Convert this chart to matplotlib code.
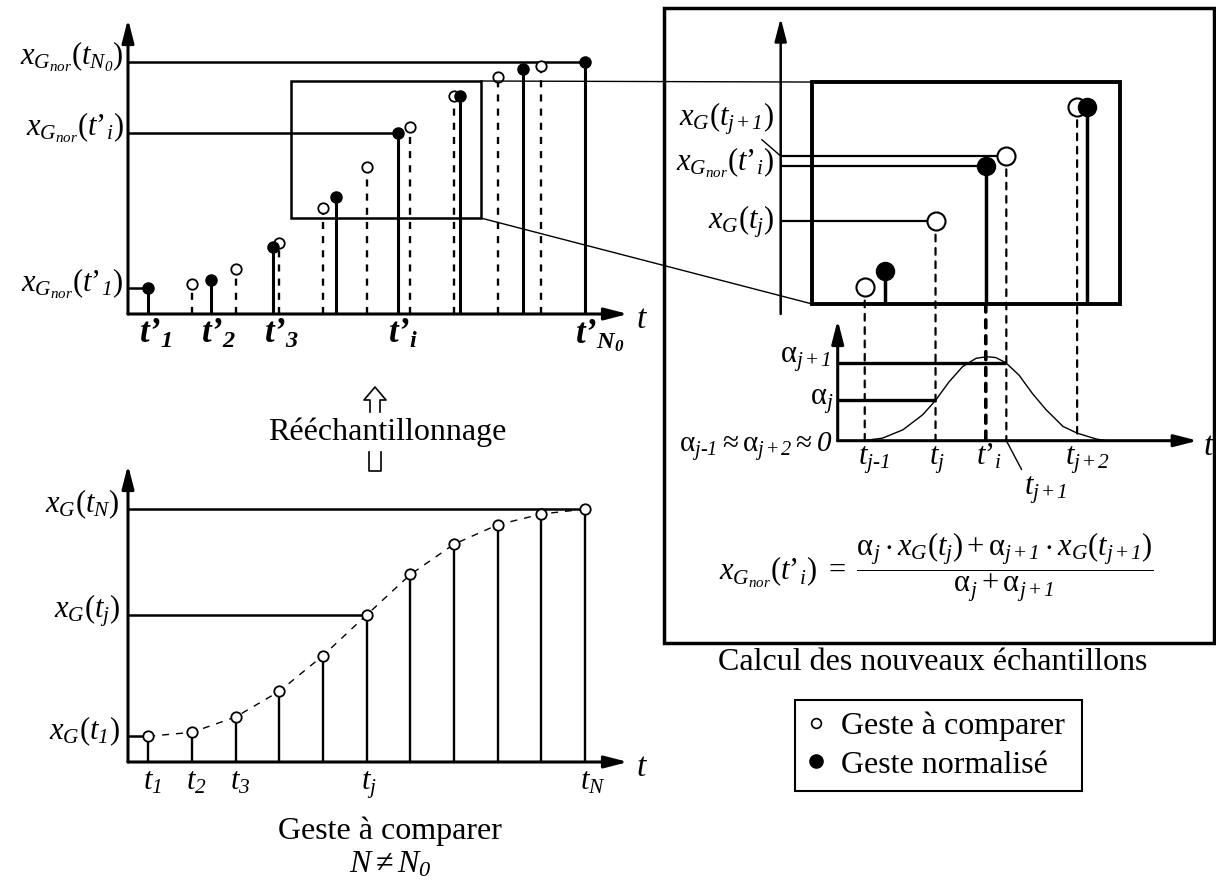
import matplotlib
matplotlib.use("Agg")
import matplotlib.pyplot as plt
from matplotlib.patches import Rectangle, ConnectionPatch
from matplotlib.lines import Line2D
from matplotlib.mathtext import MathTextParser

plt.rcParams["font.family"] = "Liberation Serif"
plt.rcParams["mathtext.fontset"] = "custom"
plt.rcParams["mathtext.rm"] = "Liberation Serif"
plt.rcParams["mathtext.it"] = "Liberation Serif:italic"
plt.rcParams["mathtext.bf"] = "Liberation Serif:bold"
# \mathsf used only for italic digits (the 'it' slot forces digits upright)
plt.rcParams["mathtext.sf"] = "Liberation Serif:italic"
plt.rcParams["mathtext.fallback"] = "stix"
try:
    plt.rcParams["mathtext.bfit"] = "Liberation Serif:italic:bold"
except KeyError:
    pass

# gesture to compare: sample times t_j (index) and values x_G(t_j)
t_orig = [0, 1, 2, 3, 4, 5, 6, 7, 8, 9, 10]
x_orig = [0.77, 0.89, 1.35, 2.12, 3.19, 4.41, 5.62, 6.53, 7.11, 7.43, 7.58]

# normalised gesture: resampled times t'_i and values x_Gnor(t'_i)
t_norm = [0, 1.43, 2.86, 4.29, 5.71, 7.14, 8.57, 10]
x_norm = [0.77, 1.03, 2.00, 3.50, 5.43, 6.53, 7.36, 7.56]

# zoom window (top left rectangle)
zoom_t = (3.26, 7.61)
zoom_v = (2.88, 6.99)

# weighting curve around t'_i
alpha_t = [3.97, 4.25, 4.54, 4.82, 5.00, 5.19, 5.38, 5.57, 5.72, 5.85,
           5.99, 6.18, 6.37, 6.56, 6.80, 7.00, 7.27, 7.41]
alpha_w = [0.00, 0.03, 0.13, 0.31, 0.48, 0.70, 0.88, 0.98, 1.00, 0.99,
           0.93, 0.78, 0.56, 0.37, 0.17, 0.09, 0.02, 0.00]
alpha_j = 0.48
alpha_j1 = 0.93

j = 5  # index of t_j
i = 4  # index of t'_i

# bold italic if available
try:
    MathTextParser("path").parse(r"$\mathbfit{t}$")
    BF = r"\mathbfit"
except Exception:
    BF = r"\mathbf"

W, H = 1216, 886
fig = plt.figure(figsize=(W / 100, H / 100), dpi=100)


def px_axes(x0, y0, x1, y1):
    # axes placed with pixel box (top-left origin)
    ax = fig.add_axes([x0 / W, 1 - y1 / H, (x1 - x0) / W, (y1 - y0) / H])
    ax.set_axis_off()
    return ax


def arrow(ax, start, end, lw=2.2):
    ax.annotate("", xy=end, xytext=start, annotation_clip=False,
                arrowprops=dict(arrowstyle="-|>,head_length=0.7,head_width=0.18",
                                lw=lw, color="k", shrinkA=0, shrinkB=0,
                                mutation_scale=20))


def axis_arrows(ax, lw=2.2, xaxis=True):
    x0, x1 = ax.get_xlim()
    y0, y1 = ax.get_ylim()
    if xaxis:
        arrow(ax, (x0, y0), (x1, y0), lw)
    arrow(ax, (x0, y0), (x0, y1), lw)


def ylab(ax, v, s, dx=-3, dy=-2, size=22):
    ax.annotate(s, xy=(ax.get_xlim()[0], v), xytext=(dx, dy),
                textcoords="offset points", ha="right", va="baseline",
                fontsize=size, annotation_clip=False)


def tlab(ax, t, s, dx=-4, dy=-20, size=22):
    ax.annotate(s, xy=(t, ax.get_ylim()[0]), xytext=(dx, dy),
                textcoords="offset points", ha="left", va="baseline",
                fontsize=size, annotation_clip=False)


def t_arrow_label(ax, dx=6, dy=-10):
    ax.annotate(r"$t$", xy=(ax.get_xlim()[1], ax.get_ylim()[0]), xytext=(dx, dy),
                textcoords="offset points", ha="left", va="baseline",
                fontsize=24, annotation_clip=False)


# ---------------- top left: normalised gesture ----------------
ax_top = px_axes(128, 19, 628, 314)
ax_top.set_xlim(-0.465, 10.98)
ax_top.set_ylim(0, 8.85)
axis_arrows(ax_top)
x0 = ax_top.get_xlim()[0]
ax_top.hlines([x_norm[-1], x_norm[i], x_norm[0]], x0,
              [t_norm[-1], t_norm[i], t_norm[0]], lw=1.8, color="k", clip_on=False)
for t, v in zip(t_orig[1:-1], x_orig[1:-1]):
    ax_top.plot([t, t], [0, v], color="k", lw=1.7, ls=(0, (3, 3)), clip_on=False)
ax_top.plot(t_orig[1:-1], x_orig[1:-1], "o", ms=7.5, mfc="white", mec="k",
            mew=1.3, clip_on=False, zorder=3)
ax_top.vlines(t_norm, 0, x_norm, lw=2.2, color="k", clip_on=False)
ax_top.plot(t_norm, x_norm, "o", ms=8, mfc="k", mec="k", clip_on=False, zorder=4)
ax_top.add_patch(Rectangle((zoom_t[0], zoom_v[0]), zoom_t[1] - zoom_t[0],
                           zoom_v[1] - zoom_v[0], fill=False, lw=1.8, clip_on=False))
ylab(ax_top, x_norm[-1], r"$x_{G_{nor}}(t_{N_{\mathsf{0}}})$")
ylab(ax_top, x_norm[i], r"$x_{G_{nor}}(t’_{i})$")
ylab(ax_top, x_norm[0], r"$x_{G_{nor}}(t’_{\mathsf{1}})$")
for k, sub in [(0, "1"), (1, "2"), (2, "3"), (i, "i"), (len(t_norm) - 1, "N_{0}")]:
    tlab(ax_top, t_norm[k], "$" + BF + "{t’}_{" + BF + "{" + sub + "}}$",
         dx=-7, dy=-21, size=25)
t_arrow_label(ax_top)

# ---------------- bottom left: gesture to compare ----------------
ax_bot = px_axes(128, 465, 628, 762)
ax_bot.set_xlim(-0.465, 10.98)
ax_bot.set_ylim(0, 8.9)
axis_arrows(ax_bot)
ax_bot.hlines([x_orig[-1], x_orig[j], x_orig[0]], x0,
              [t_orig[-1], t_orig[j], t_orig[0]], lw=1.8, color="k", clip_on=False)
ax_bot.vlines(t_orig, 0, x_orig, lw=1.7, color="k", clip_on=False)
ax_bot.plot(t_orig, x_orig, color="k", lw=1.0, ls=(0, (5, 5)), clip_on=False)
ax_bot.plot(t_orig, x_orig, "o", ms=7.5, mfc="white", mec="k", mew=1.3,
            clip_on=False, zorder=3)
ylab(ax_bot, x_orig[-1], r"$x_G(t_N)$", dx=-6)
ylab(ax_bot, x_orig[j], r"$x_G(t_j)$", dx=-6)
ylab(ax_bot, x_orig[0], r"$x_G(t_{\mathsf{1}})$", dx=-6)
for k, s in [(0, r"$t_{\mathsf{1}}$"), (1, r"$t_{\mathsf{2}}$"), (2, r"$t_{\mathsf{3}}$"),
             (j, r"$t_j$"), (10, r"$t_N$")]:
    tlab(ax_bot, t_orig[k], s)
t_arrow_label(ax_bot)

# ---------------- right: zoom on the samples ----------------
ax_zoom = px_axes(780.7, 18, 1120, 314)
ax_zoom.set_xlim(2.813, 7.606)
ax_zoom.set_ylim(2.695, 8.176)
axis_arrows(ax_zoom, lw=1.8, xaxis=False)
z0 = ax_zoom.get_xlim()[0]
ax_zoom.add_patch(Rectangle((zoom_t[0], zoom_v[0]), zoom_t[1] - zoom_t[0],
                            zoom_v[1] - zoom_v[0], fill=False, lw=2.8, clip_on=False))
ax_zoom.hlines([x_orig[j + 1], x_norm[i], x_orig[j]], z0,
               [t_orig[j + 1], t_norm[i], t_orig[j]], lw=1.6, color="k", clip_on=False)
open_in = [k for k in range(len(t_orig)) if zoom_t[0] < t_orig[k] < zoom_t[1]]
fill_in = [k for k in range(len(t_norm)) if zoom_t[0] < t_norm[k] < zoom_t[1]]
ax_zoom.vlines([t_norm[k] for k in fill_in], zoom_v[0], [x_norm[k] for k in fill_in],
               lw=2.5, color="k", clip_on=False)
ax_zoom.plot([t_orig[k] for k in open_in], [x_orig[k] for k in open_in], "o", ms=13,
             mfc="white", mec="k", mew=1.5, clip_on=False, zorder=3)
ax_zoom.plot([t_norm[k] for k in fill_in], [x_norm[k] for k in fill_in], "o", ms=13,
             mfc="k", mec="k", clip_on=False, zorder=4)
ylab(ax_zoom, x_norm[i], r"$x_{G_{nor}}(t’_{i})$", dx=-5, dy=-3)
ylab(ax_zoom, x_orig[j], r"$x_G(t_j)$", dx=-5, dy=-5)
ax_zoom.annotate(r"$x_G(t_{j+\mathsf{1}})$", xy=(z0, x_orig[j + 1]), xytext=(-5, 27),
                 textcoords="offset points", ha="right", va="center", fontsize=22,
                 annotation_clip=False,
                 arrowprops=dict(arrowstyle="-", lw=1.0, color="k", relpos=(0.84, 0.0),
                                 shrinkA=0, shrinkB=0))

# ---------------- right: weighting curve ----------------
ax_alpha = px_axes(837.7, 320, 1197.7, 440.7)
ax_alpha.set_xlim(3.618, 8.703)
ax_alpha.set_ylim(0, 1.437)
axis_arrows(ax_alpha)
a0 = ax_alpha.get_xlim()[0]
ax_alpha.plot(alpha_t, alpha_w, color="k", lw=1.0, clip_on=False,
              solid_joinstyle="round")
ax_alpha.hlines([alpha_j1, alpha_j], a0, [t_orig[j + 1], t_orig[j]], lw=2.4,
                color="k", clip_on=False)
ylab(ax_alpha, alpha_j1, r"$\mathrm{\alpha}_{j+\mathsf{1}}$", dx=-5, dy=0)
ylab(ax_alpha, alpha_j, r"$\mathrm{\alpha}_j$", dx=-3, dy=-3)
ylab(ax_alpha, 0, r"$\mathrm{\alpha}_{j‐\mathsf{1}} \approx \mathrm{\alpha}_{j+\mathsf{2}} \approx \mathsf{0}$",
     dx=-4, dy=-8, size=21)
for t, s, dx in [(t_orig[j - 1], r"$t_{j‐\mathsf{1}}$", -5), (t_orig[j], r"$t_j$", -5),
                 (t_norm[i], r"$t’_{i}$", -7), (t_orig[j + 2], r"$t_{j+\mathsf{2}}$", -9)]:
    tlab(ax_alpha, t, s, dx=dx, dy=-17)
ax_alpha.annotate(r"$t_{j+\mathsf{1}}$", xy=(t_orig[j + 1], 0), xytext=(13, -39),
                  textcoords="offset points", ha="left", va="baseline", fontsize=22,
                  annotation_clip=False,
                  arrowprops=dict(arrowstyle="-", lw=1.0, color="k", relpos=(0.0, 1.0),
                                  shrinkA=2, shrinkB=0))
t_arrow_label(ax_alpha, dx=4, dy=-10)

# dashed projections from the zoom down to the time axis of the weights
for k in open_in:
    fig.add_artist(ConnectionPatch(xyA=(t_orig[k], x_orig[k]), coordsA=ax_zoom.transData,
                                   xyB=(t_orig[k], 0), coordsB=ax_alpha.transData,
                                   lw=1.6, ls=(0, (3, 3)), color="k", zorder=-1))
fig.add_artist(ConnectionPatch(xyA=(t_norm[i], zoom_v[0]), coordsA=ax_zoom.transData,
                               xyB=(t_norm[i], 0), coordsB=ax_alpha.transData,
                               lw=2.6, ls=(0, (2.2, 2.2)), color="k", zorder=-1))

# zoom lines between top-left rectangle and right rectangle
for v in zoom_v:
    fig.add_artist(ConnectionPatch(xyA=(zoom_t[1], v), coordsA=ax_top.transData,
                                   xyB=(zoom_t[0], v), coordsB=ax_zoom.transData,
                                   lw=1.0, color="k"))

# ---------------- frames, texts ----------------
fig.add_artist(Rectangle((664 / W, 1 - 643 / H), 550 / W, 635 / H,
                         transform=fig.transFigure, fill=False, lw=2.5, color="k"))

formula = (r"$x_{G_{nor}}(t’_{i})\ =\ \dfrac{\mathrm{\alpha}_j \cdot x_G(t_j) + "
           r"\mathrm{\alpha}_{j+\mathsf{1}} \cdot x_G(t_{j+\mathsf{1}})}"
           r"{\mathrm{\alpha}_j + \mathrm{\alpha}_{j+\mathsf{1}}}$")
fig.text(719 / W, 1 - 567 / H, formula, ha="left", va="center", fontsize=22)

fig.text(933 / W, 1 - 662 / H, "Calcul des nouveaux échantillons",
         ha="center", va="center", fontsize=23)
fig.text(387 / W, 1 - 432 / H, "Rééchantillonnage", ha="center", va="center", fontsize=23)
fig.text(390 / W, 1 - 831 / H, "Geste à comparer", ha="center", va="center", fontsize=23)
fig.text(390 / W, 1 - 865 / H, r"$N \neq N_{\mathsf{0}}$", ha="center", va="center",
         fontsize=23)

# hollow arrow for the resampling step
up_x = [370, 370, 364, 375, 386, 380, 380]
up_y = [412, 400, 400, 387, 400, 400, 412]
fig.add_artist(Line2D([x / W for x in up_x], [1 - y / H for y in up_y],
                      lw=1.2, color="k", transform=fig.transFigure))
low_x = [369, 369, 381, 381]
low_y = [452, 471, 471, 452]
fig.add_artist(Line2D([x / W for x in low_x], [1 - y / H for y in low_y],
                      lw=1.2, color="k", transform=fig.transFigure))

# legend
handles = [Line2D([], [], marker="o", ms=7, mfc="white", mec="k", mew=1.2, ls="none"),
           Line2D([], [], marker="o", ms=9.5, mfc="k", mec="k", ls="none")]
leg = fig.legend(handles, ["Geste à comparer", "Geste normalisé"], loc="upper left",
                 bbox_to_anchor=(795 / W, 1 - 794 / H, 287 / W, 94 / H),
                 bbox_transform=fig.transFigure, mode="expand",
                 borderaxespad=0, frameon=True, fancybox=False, edgecolor="k",
                 framealpha=1, fontsize=23, handlelength=0.6, handletextpad=0.5,
                 borderpad=0.35, labelspacing=0.3)
leg.get_frame().set_linewidth(1.5)

fig.savefig("out.png", dpi=100, facecolor="white")
